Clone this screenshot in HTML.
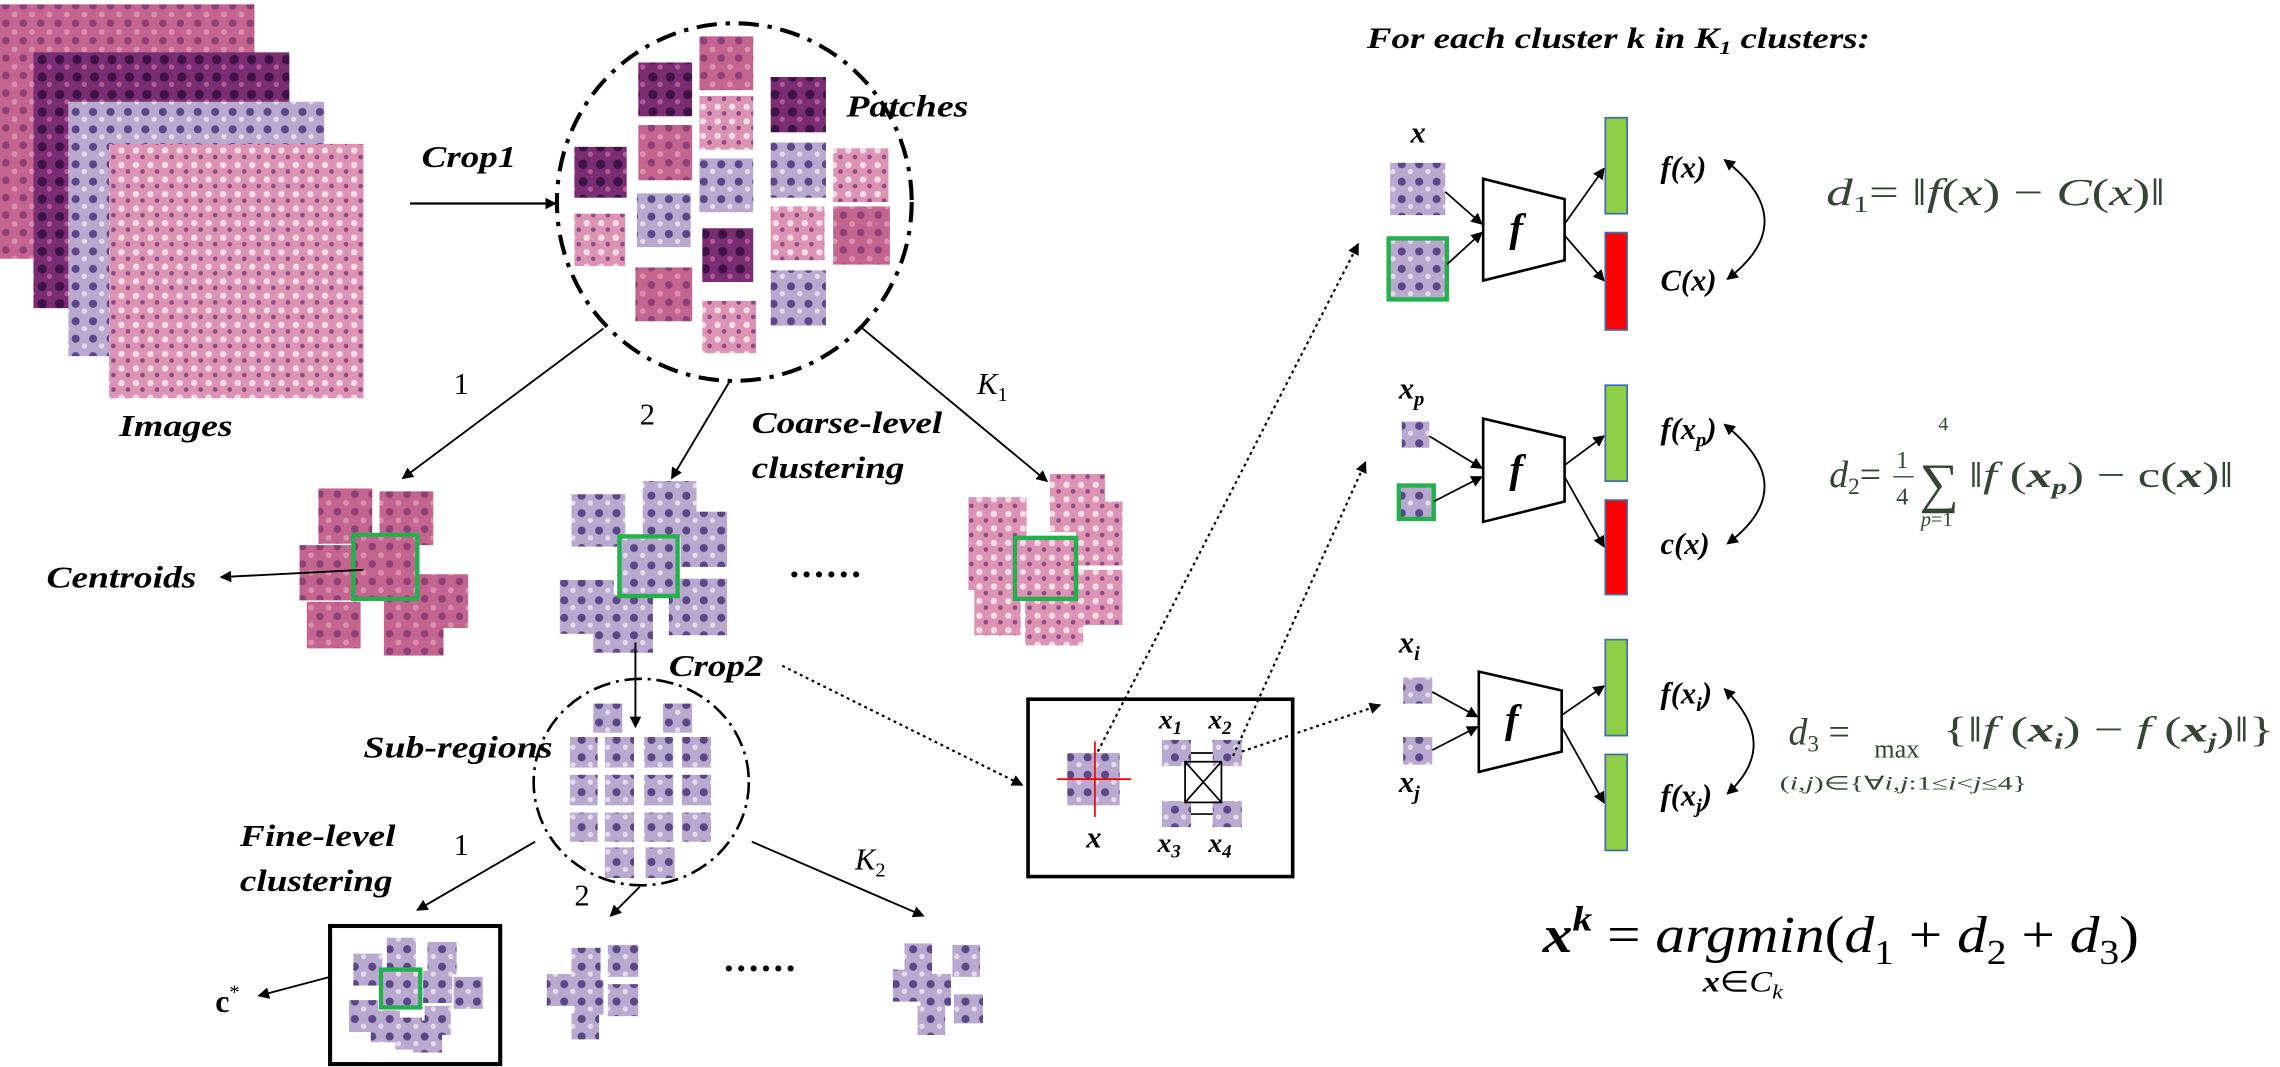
<!DOCTYPE html>
<html><head><meta charset="utf-8">
<style>
html,body{margin:0;padding:0;background:#fff;}
svg{display:block;font-family:"Liberation Serif","Times New Roman",serif;}
svg text{font-family:"Liberation Serif","Times New Roman",serif;}
.bi{font-weight:bold;font-style:italic;}
.m{fill:#354535;}
</style></head>
<body>
<svg width="2280" height="1067" viewBox="0 0 1568 734" preserveAspectRatio="none" font-family="Liberation Serif, serif" xmlns="http://www.w3.org/2000/svg">
<defs>
<marker id="ah" markerWidth="8" markerHeight="8" refX="7" refY="4" orient="auto" markerUnits="userSpaceOnUse"><path d="M0,0 L8,4 L0,8 z" fill="#000"/></marker>
<marker id="ahs" markerWidth="8" markerHeight="8" refX="1" refY="4" orient="auto" markerUnits="userSpaceOnUse"><path d="M8,0 L0,4 L8,8 z" fill="#000"/></marker>
<pattern id="pink" width="12" height="12" patternUnits="userSpaceOnUse"><rect width="12" height="12" fill="#c46590"/><circle cx="4" cy="4" r="2.6" fill="#8e3f78"/><circle cx="10" cy="10" r="2" fill="#dc8fae"/></pattern>
<pattern id="dark" width="12" height="12" patternUnits="userSpaceOnUse"><rect width="12" height="12" fill="#7a2d72"/><circle cx="5" cy="5" r="3.2" fill="#3d1245"/><circle cx="10" cy="10" r="1.8" fill="#b45a9c"/></pattern>
<pattern id="lilac" width="12" height="12" patternUnits="userSpaceOnUse"><rect width="12" height="12" fill="#b9a9cf"/><circle cx="4" cy="5" r="2.8" fill="#5b4688"/><circle cx="10" cy="10" r="1.8" fill="#e6dcee"/></pattern>
<pattern id="hne" width="10" height="10" patternUnits="userSpaceOnUse"><rect width="10" height="10" fill="#dd94b4"/><circle cx="3.5" cy="3.5" r="2.2" fill="#f5dde8"/><circle cx="8" cy="8" r="1.6" fill="#8f4a85"/></pattern>
</defs>

<g>
<rect x="0" y="3" width="175" height="175" fill="url(#pink)"/>
<rect x="23" y="36" width="176" height="176" fill="url(#dark)"/>
<rect x="47" y="70" width="176" height="175" fill="url(#lilac)"/>
<rect x="75" y="99" width="175" height="175" fill="url(#hne)"/>
</g>
<text x="82" y="300" class="bi" font-size="21" textLength="78" lengthAdjust="spacingAndGlyphs">Images</text>

<text x="290" y="115" class="bi" font-size="21" textLength="65" lengthAdjust="spacingAndGlyphs">Crop1</text>
<line x1="282" y1="140" x2="382" y2="140" stroke="#000" stroke-width="1.5" marker-end="url(#ah)"/>

<ellipse cx="505" cy="139" rx="122" ry="123" fill="none" stroke="#000" stroke-width="2.8" stroke-dasharray="14,6,3,6"/>
<g>
<rect x="439" y="43" width="37" height="37" fill="url(#dark)"/>
<rect x="481" y="25" width="37" height="37" fill="url(#pink)"/>
<rect x="530" y="53" width="38" height="38" fill="url(#dark)"/>
<rect x="481" y="66" width="37" height="37" fill="url(#hne)"/>
<rect x="439" y="86" width="37" height="38" fill="url(#pink)"/>
<rect x="395" y="101" width="36" height="35" fill="url(#dark)"/>
<rect x="481" y="109" width="37" height="37" fill="url(#lilac)"/>
<rect x="530" y="98" width="38" height="38" fill="url(#lilac)"/>
<rect x="573" y="102" width="38" height="37" fill="url(#hne)"/>
<rect x="438" y="133" width="37" height="37" fill="url(#lilac)"/>
<rect x="395" y="147" width="35" height="36" fill="url(#hne)"/>
<rect x="483" y="157" width="35" height="37" fill="url(#dark)"/>
<rect x="530" y="142" width="37" height="37" fill="url(#hne)"/>
<rect x="573" y="142" width="39" height="40" fill="url(#pink)"/>
<rect x="437" y="184" width="39" height="37" fill="url(#pink)"/>
<rect x="483" y="207" width="37" height="36" fill="url(#hne)"/>
<rect x="530" y="186" width="38" height="38" fill="url(#lilac)"/>
</g>
<text x="582" y="80" class="bi" font-size="21" textLength="84" lengthAdjust="spacingAndGlyphs">Patches</text>

<line x1="415" y1="226" x2="277" y2="329" stroke="#000" stroke-width="1.3" marker-end="url(#ah)"/>
<line x1="502" y1="262" x2="462" y2="329" stroke="#000" stroke-width="1.3" marker-end="url(#ah)"/>
<line x1="592" y1="225" x2="720" y2="331" stroke="#000" stroke-width="1.3" marker-end="url(#ah)"/>
<text x="312" y="271" font-size="21">1</text>
<text x="440" y="292" font-size="21">2</text>
<text x="672" y="271" font-size="21" font-style="italic">K<tspan font-size="14" dy="5" font-style="normal">1</tspan></text>
<text x="517" y="298" class="bi" font-size="21" textLength="131" lengthAdjust="spacingAndGlyphs">Coarse-level</text>
<text x="517" y="329" class="bi" font-size="21" textLength="105" lengthAdjust="spacingAndGlyphs">clustering</text>

<g fill="url(#pink)">
<rect x="219" y="336" width="37" height="38"/>
<rect x="261" y="338" width="37" height="37"/>
<rect x="206" y="375" width="37" height="38"/>
<rect x="243" y="368" width="44" height="44"/>
<rect x="286" y="395" width="36" height="37"/>
<rect x="211" y="414" width="37" height="32"/>
<rect x="264" y="413" width="41" height="38"/>
<rect x="243" y="368" width="44" height="44" fill="none" stroke="#22b14c" stroke-width="3"/>
</g>
<text x="32" y="404" class="bi" font-size="21" textLength="103" lengthAdjust="spacingAndGlyphs">Centroids</text>
<line x1="250" y1="392" x2="152" y2="397" stroke="#000" stroke-width="1.3" marker-end="url(#ah)"/>

<g fill="url(#lilac)">
<rect x="393" y="340" width="37" height="36"/>
<rect x="442" y="331" width="37" height="38"/>
<rect x="468" y="352" width="32" height="38"/>
<rect x="385" y="399" width="37" height="37"/>
<rect x="408" y="409" width="41" height="40"/>
<rect x="460" y="398" width="40" height="39"/>
<rect x="426" y="369" width="40" height="41"/>
<rect x="426" y="369" width="40" height="41" fill="none" stroke="#22b14c" stroke-width="3"/>
</g>
<text x="543" y="397" font-size="26" font-weight="bold" letter-spacing="2">......</text>

<g fill="url(#hne)">
<rect x="722" y="326" width="38" height="40"/>
<rect x="666" y="342" width="40" height="32"/>
<rect x="666" y="374" width="38" height="32"/>
<rect x="740" y="345" width="32" height="44"/>
<rect x="738" y="392" width="34" height="38"/>
<rect x="670" y="402" width="32" height="35"/>
<rect x="705" y="408" width="40" height="36"/>
<rect x="698" y="370" width="42" height="42"/>
<rect x="698" y="370" width="42" height="42" fill="none" stroke="#22b14c" stroke-width="3"/>
</g>

<line x1="437" y1="442" x2="437" y2="500" stroke="#000" stroke-width="1.3" marker-end="url(#ah)"/>
<text x="460" y="465" class="bi" font-size="21" textLength="65" lengthAdjust="spacingAndGlyphs">Crop2</text>
<line x1="538" y1="458" x2="703" y2="540" stroke="#000" stroke-width="1.5" stroke-dasharray="2,2.5" marker-end="url(#ah)"/>

<ellipse cx="441" cy="538" rx="74" ry="71" fill="none" stroke="#000" stroke-width="1.8" stroke-dasharray="12,4,2,4"/>
<g fill="url(#lilac)">
<rect x="408" y="484" width="20" height="20"/><rect x="456" y="484" width="20" height="20"/>
<rect x="392" y="507" width="19" height="21"/><rect x="416" y="507" width="20" height="21"/><rect x="443" y="507" width="20" height="21"/><rect x="469" y="507" width="20" height="21"/>
<rect x="392" y="533" width="19" height="21"/><rect x="416" y="533" width="20" height="21"/><rect x="443" y="533" width="20" height="21"/><rect x="469" y="533" width="20" height="21"/>
<rect x="392" y="559" width="19" height="20"/><rect x="416" y="559" width="20" height="20"/><rect x="443" y="559" width="20" height="20"/><rect x="469" y="559" width="20" height="20"/>
<rect x="416" y="583" width="20" height="21"/><rect x="444" y="583" width="20" height="21"/>
</g>
<text x="250" y="521" class="bi" font-size="21" textLength="130" lengthAdjust="spacingAndGlyphs">Sub-regions</text>

<text x="165" y="582" class="bi" font-size="21" textLength="107" lengthAdjust="spacingAndGlyphs">Fine-level</text>
<text x="165" y="613" class="bi" font-size="21" textLength="105" lengthAdjust="spacingAndGlyphs">clustering</text>
<line x1="368" y1="579" x2="287" y2="626" stroke="#000" stroke-width="1.3" marker-end="url(#ah)"/>
<line x1="440" y1="610" x2="420" y2="630" stroke="#000" stroke-width="1.3" marker-end="url(#ah)"/>
<line x1="517" y1="579" x2="635" y2="630" stroke="#000" stroke-width="1.3" marker-end="url(#ah)"/>
<text x="312" y="588" font-size="21">1</text>
<text x="395" y="623" font-size="21">2</text>
<text x="588" y="598" font-size="21" font-style="italic">K<tspan font-size="14" dy="5" font-style="normal">2</tspan></text>

<rect x="227" y="637" width="117" height="95" fill="none" stroke="#000" stroke-width="2.8"/>
<g fill="url(#lilac)">
<rect x="266" y="645" width="20" height="22"/><rect x="294" y="648" width="20" height="22"/>
<rect x="243" y="656" width="20" height="22"/><rect x="291" y="668" width="20" height="22"/><rect x="312" y="672" width="20" height="22"/>
<rect x="240" y="688" width="20" height="22"/><rect x="255" y="695" width="20" height="22"/><rect x="272" y="700" width="18" height="22"/><rect x="284" y="702" width="20" height="22"/><rect x="292" y="692" width="18" height="20"/>
<rect x="262" y="667" width="27" height="26"/>
</g>
<rect x="262" y="667" width="27" height="26" fill="none" stroke="#22b14c" stroke-width="3"/>
<text x="148" y="696" font-size="22" font-weight="bold">c<tspan font-weight="normal" font-size="14" dy="-9">*</tspan></text>
<line x1="227" y1="672" x2="178" y2="685" stroke="#000" stroke-width="1.3" marker-end="url(#ah)"/>

<g fill="url(#lilac)">
<rect x="393" y="652" width="20" height="22"/><rect x="418" y="650" width="21" height="22"/>
<rect x="376" y="670" width="20" height="22"/><rect x="395" y="674" width="20" height="24"/><rect x="418" y="677" width="21" height="22"/>
<rect x="393" y="697" width="19" height="18"/>
</g>
<text x="498" y="668" font-size="26" font-weight="bold" letter-spacing="2">......</text>
<g fill="url(#lilac)">
<rect x="622" y="649" width="19" height="22"/><rect x="655" y="650" width="19" height="22"/>
<rect x="614" y="667" width="19" height="22"/><rect x="633" y="670" width="21" height="22"/><rect x="656" y="684" width="20" height="20"/>
<rect x="631" y="692" width="19" height="20"/>
</g>

<rect x="707" y="481" width="182" height="122" fill="none" stroke="#000" stroke-width="2.5"/>
<rect x="734" y="518" width="36" height="36" fill="url(#lilac)"/>
<line x1="727" y1="536" x2="778" y2="536" stroke="red" stroke-width="1.2"/>
<line x1="753" y1="510" x2="753" y2="562" stroke="red" stroke-width="1.2"/>
<text x="747" y="583" class="bi" font-size="21">x</text>
<g fill="url(#lilac)">
<rect x="799" y="509" width="20" height="18"/><rect x="834" y="509" width="20" height="18"/>
<rect x="799" y="551" width="20" height="18"/><rect x="834" y="551" width="20" height="18"/>
</g>
<g stroke="#000" stroke-width="1.2" fill="none">
<line x1="819" y1="518" x2="834" y2="518"/><line x1="819" y1="560" x2="834" y2="560"/>
<rect x="815" y="524" width="25" height="28"/>
<line x1="815" y1="524" x2="840" y2="552"/><line x1="840" y1="524" x2="815" y2="552"/>
</g>
<text x="797" y="501" class="bi" font-size="19">x<tspan font-size="13" dy="4">1</tspan></text>
<text x="831" y="501" class="bi" font-size="19">x<tspan font-size="13" dy="4">2</tspan></text>
<text x="796" y="586" class="bi" font-size="19">x<tspan font-size="13" dy="4">3</tspan></text>
<text x="831" y="586" class="bi" font-size="19">x<tspan font-size="13" dy="4">4</tspan></text>

<g stroke="#000" stroke-width="1.5" stroke-dasharray="2,2.5" fill="none">
<line x1="755" y1="517" x2="934" y2="168" marker-end="url(#ah)"/>
<line x1="848" y1="520" x2="939" y2="318" marker-end="url(#ah)"/>
<line x1="854" y1="517" x2="949" y2="485" marker-end="url(#ah)"/>
</g>

<text x="940" y="33" class="bi" font-size="20" textLength="346" lengthAdjust="spacingAndGlyphs">For each cluster k in K<tspan font-size="13" dy="4">1</tspan><tspan dy="-4"> clusters:</tspan></text>

<text x="970" y="98" class="bi" font-size="21">x</text>
<rect x="956" y="112" width="38" height="36" fill="url(#lilac)"/>
<rect x="955" y="164" width="40" height="42" fill="url(#lilac)" stroke="#22b14c" stroke-width="3"/>
<line x1="994" y1="132" x2="1019" y2="154" stroke="#000" stroke-width="1.2" marker-end="url(#ah)"/>
<line x1="995" y1="182" x2="1019" y2="160" stroke="#000" stroke-width="1.2" marker-end="url(#ah)"/>
<polygon points="1020,123 1076,137 1076,179 1020,193" fill="#fff" stroke="#000" stroke-width="1.8"/>
<text x="1038" y="166" class="bi" font-size="28">f</text>
<line x1="1076" y1="154" x2="1103" y2="116" stroke="#000" stroke-width="1.2" marker-end="url(#ah)"/>
<line x1="1076" y1="162" x2="1103" y2="193" stroke="#000" stroke-width="1.2" marker-end="url(#ah)"/>
<rect x="1104" y="81" width="15" height="66" fill="#8fce47" stroke="#3f6fb0" stroke-width="1.2"/>
<rect x="1104" y="160" width="15" height="67" fill="#ff0000" stroke="#3f6fb0" stroke-width="1.2"/>
<text x="1142" y="122" class="bi" font-size="21">f(x)</text>
<text x="1142" y="200" class="bi" font-size="21">C(x)</text>
<path d="M1186,110 Q1240,152 1188,192" fill="none" stroke="#000" stroke-width="1.3" marker-start="url(#ahs)" marker-end="url(#ah)"/>
<text x="1256" y="141" font-size="26" class="m" textLength="233" lengthAdjust="spacingAndGlyphs"><tspan font-style="italic">d</tspan><tspan font-size="16" dy="5">1</tspan><tspan dy="-5">= ‖</tspan><tspan font-style="italic">f</tspan>(<tspan font-style="italic">x</tspan>) − <tspan font-style="italic">C</tspan>(<tspan font-style="italic">x</tspan>)‖</text>

<text x="962" y="274" class="bi" font-size="21">x<tspan font-size="14" dy="5">p</tspan></text>
<rect x="964" y="290" width="19" height="18" fill="url(#lilac)"/>
<rect x="962" y="334" width="24" height="23" fill="url(#lilac)" stroke="#22b14c" stroke-width="3"/>
<line x1="983" y1="300" x2="1019" y2="322" stroke="#000" stroke-width="1.2" marker-end="url(#ah)"/>
<line x1="986" y1="345" x2="1019" y2="328" stroke="#000" stroke-width="1.2" marker-end="url(#ah)"/>
<polygon points="1020,288 1076,301 1076,345 1020,359" fill="#fff" stroke="#000" stroke-width="1.8"/>
<text x="1038" y="332" class="bi" font-size="28">f</text>
<line x1="1076" y1="320" x2="1103" y2="300" stroke="#000" stroke-width="1.2" marker-end="url(#ah)"/>
<line x1="1076" y1="328" x2="1103" y2="376" stroke="#000" stroke-width="1.2" marker-end="url(#ah)"/>
<rect x="1104" y="265" width="15" height="66" fill="#8fce47" stroke="#3f6fb0" stroke-width="1.2"/>
<rect x="1104" y="344" width="15" height="65" fill="#ff0000" stroke="#3f6fb0" stroke-width="1.2"/>
<text x="1142" y="302" class="bi" font-size="21">f(x<tspan font-size="14" dy="5">p</tspan><tspan dy="-5">)</tspan></text>
<text x="1142" y="381" class="bi" font-size="21">c(x)</text>
<path d="M1186,292 Q1240,335 1188,374" fill="none" stroke="#000" stroke-width="1.3" marker-start="url(#ahs)" marker-end="url(#ah)"/>
<g class="m">
<text x="1258" y="335" font-size="26"><tspan font-style="italic">d</tspan><tspan font-size="16" dy="5">2</tspan><tspan dy="-5">=</tspan></text>
<text x="1304" y="322" font-size="17">1</text><line x1="1302" y1="328" x2="1316" y2="328" stroke="#354535"/><text x="1304" y="347" font-size="17">4</text>
<text x="1320" y="345" font-size="38">∑</text>
<text x="1333" y="296" font-size="14">4</text>
<text x="1321" y="362" font-size="14"><tspan font-style="italic">p</tspan>=1</text>
<text x="1354" y="335" font-size="25" textLength="182" lengthAdjust="spacingAndGlyphs">‖<tspan font-style="italic">f</tspan> (<tspan font-weight="bold" font-style="italic">x</tspan><tspan font-size="15" dy="5" font-weight="bold" font-style="italic">p</tspan><tspan dy="-5">) − c(</tspan><tspan font-weight="bold" font-style="italic">x</tspan>)‖</text>
</g>

<text x="962" y="449" class="bi" font-size="21">x<tspan font-size="14" dy="5">i</tspan></text>
<rect x="965" y="466" width="20" height="18" fill="url(#lilac)"/>
<rect x="965" y="507" width="20" height="19" fill="url(#lilac)"/>
<text x="962" y="545" class="bi" font-size="21">x<tspan font-size="14" dy="5">j</tspan></text>
<line x1="985" y1="476" x2="1016" y2="493" stroke="#000" stroke-width="1.2" marker-end="url(#ah)"/>
<line x1="985" y1="516" x2="1016" y2="500" stroke="#000" stroke-width="1.2" marker-end="url(#ah)"/>
<polygon points="1017,462 1074,475 1074,517 1017,531" fill="#fff" stroke="#000" stroke-width="1.8"/>
<text x="1035" y="504" class="bi" font-size="28">f</text>
<line x1="1074" y1="492" x2="1103" y2="472" stroke="#000" stroke-width="1.2" marker-end="url(#ah)"/>
<line x1="1074" y1="500" x2="1103" y2="552" stroke="#000" stroke-width="1.2" marker-end="url(#ah)"/>
<rect x="1104" y="440" width="15" height="66" fill="#8fce47" stroke="#3f6fb0" stroke-width="1.2"/>
<rect x="1104" y="519" width="15" height="66" fill="#8fce47" stroke="#3f6fb0" stroke-width="1.2"/>
<text x="1142" y="484" class="bi" font-size="21">f(x<tspan font-size="14" dy="5">i</tspan><tspan dy="-5">)</tspan></text>
<text x="1142" y="554" class="bi" font-size="21">f(x<tspan font-size="14" dy="5">j</tspan><tspan dy="-5">)</tspan></text>
<path d="M1186,474 Q1225,512 1188,546" fill="none" stroke="#000" stroke-width="1.3" marker-start="url(#ahs)" marker-end="url(#ah)"/>
<g class="m">
<text x="1230" y="512" font-size="26"><tspan font-style="italic">d</tspan><tspan font-size="16" dy="5">3</tspan><tspan dy="-5"> =</tspan></text>
<text x="1289" y="521" font-size="18">max</text>
<text x="1224" y="543" font-size="13" textLength="170" lengthAdjust="spacingAndGlyphs">(<tspan font-style="italic">i,j</tspan>)∈{∀<tspan font-style="italic">i,j</tspan>:1≤<tspan font-style="italic">i</tspan>&lt;<tspan font-style="italic">j</tspan>≤4}</text>
<text x="1336" y="510" font-size="25" textLength="228" lengthAdjust="spacingAndGlyphs">{‖<tspan font-style="italic">f</tspan> (<tspan font-weight="bold" font-style="italic">x</tspan><tspan font-size="15" dy="5" font-weight="bold" font-style="italic">i</tspan><tspan dy="-5">) − </tspan><tspan font-style="italic">f</tspan> (<tspan font-weight="bold" font-style="italic">x</tspan><tspan font-size="15" dy="5" font-weight="bold" font-style="italic">j</tspan><tspan dy="-5">)‖}</tspan></text>
</g>

<g>
<text x="1061" y="655" font-size="36" textLength="410" lengthAdjust="spacingAndGlyphs"><tspan font-weight="bold" font-style="italic">x</tspan><tspan font-size="24" dy="-15" font-weight="bold" font-style="italic">k</tspan><tspan dy="15"> = </tspan><tspan font-style="italic">argmin</tspan>(<tspan font-style="italic">d</tspan><tspan font-size="24" dy="8">1</tspan><tspan dy="-8"> + </tspan><tspan font-style="italic">d</tspan><tspan font-size="24" dy="8">2</tspan><tspan dy="-8"> + </tspan><tspan font-style="italic">d</tspan><tspan font-size="24" dy="8">3</tspan><tspan dy="-8">)</tspan></text>
<text x="1171" y="682" font-size="20" textLength="55" lengthAdjust="spacingAndGlyphs"><tspan font-weight="bold" font-style="italic">x</tspan>∈<tspan font-style="italic">C</tspan><tspan font-size="14" dy="5" font-style="italic">k</tspan></text>
</g>
</svg>
</body></html>
